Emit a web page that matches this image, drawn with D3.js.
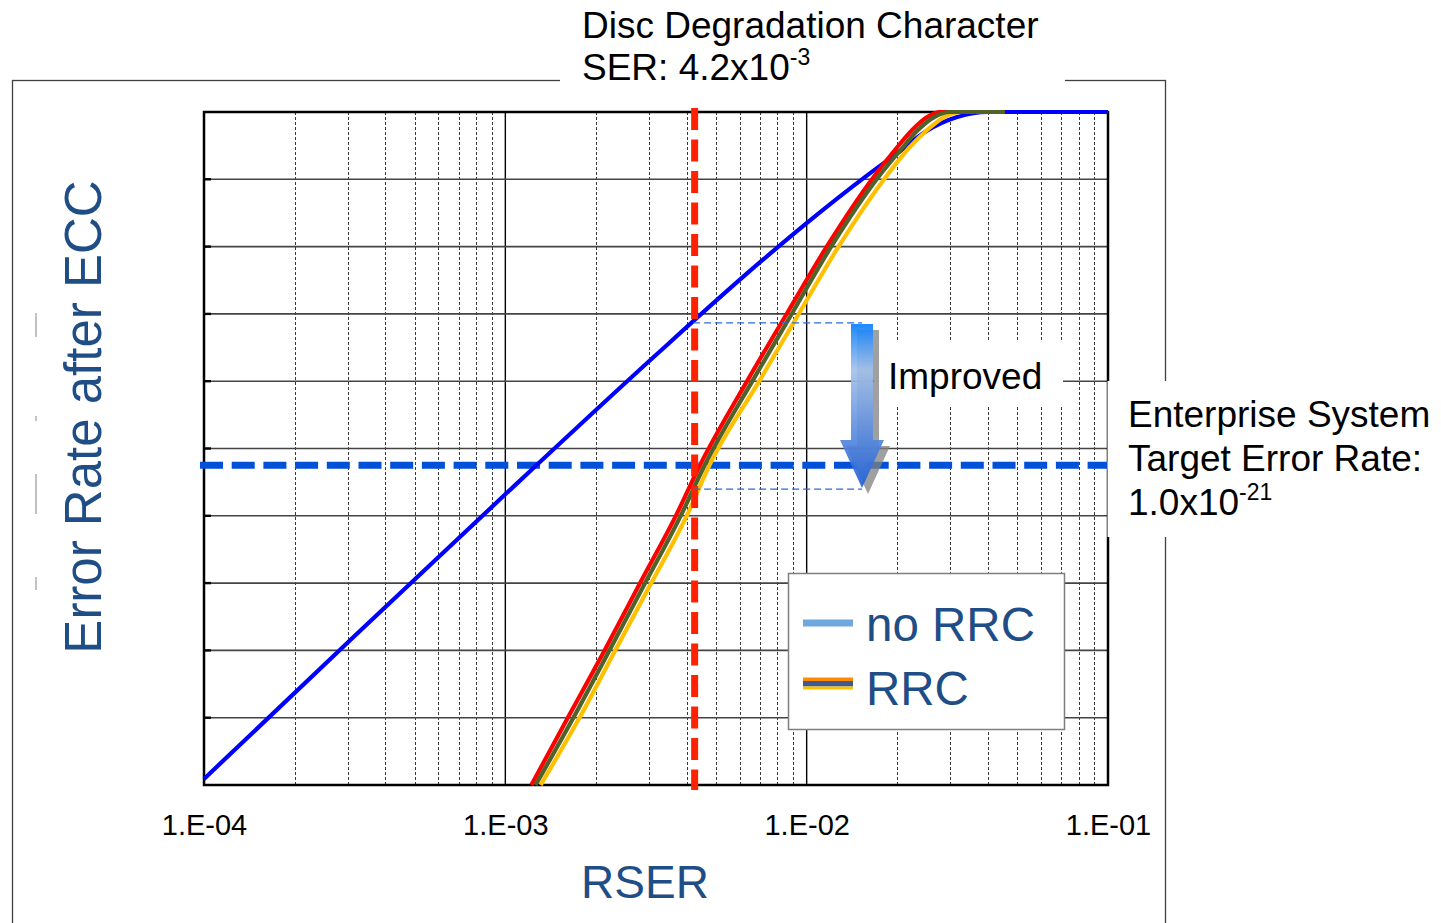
<!DOCTYPE html>
<html>
<head>
<meta charset="utf-8">
<script src="https://cdn.jsdelivr.net/npm/d3@7"></script>
<style>
	body{margin:0;background:#fff;}
	svg{display:block;font-family:"Liberation Sans",Arial,sans-serif;}
</style>
</head>
<body>
<svg id="chart" width="1441" height="923"></svg>
<script>
// values (RSER on x, error rate after ECC on y)
const noRrcRser  = [1.0e-4, 3.16e-4, 1.0e-3, 3.16e-3, 6.3e-3, 1.0e-2, 1.58e-2, 2.0e-2, 2.5e-2, 3.16e-2, 4.0e-2, 1.0e-1];
const noRrcError = [2.3e-40, 7.1e-32, 1.9e-23, 3.6e-15, 2.3e-10, 2.5e-7, 1.6e-4, 3.6e-3, 7.4e-2, 0.5, 1, 1];

const rrcRedRser    = [1.22e-3, 1.61e-3, 2.13e-3, 2.80e-3, 3.69e-3, 4.43e-3, 6.38e-3, 8.61e-3, 1.17e-2, 1.65e-2, 2.00e-2, 2.24e-2, 2.51e-2, 2.77e-2, 4.55e-2];
const rrcOliveRser  = [1.26e-3, 1.68e-3, 2.21e-3, 2.91e-3, 3.83e-3, 4.59e-3, 6.64e-3, 8.95e-3, 1.21e-2, 1.71e-2, 2.09e-2, 2.34e-2, 2.65e-2, 2.99e-2, 4.55e-2];
const rrcYellowRser = [1.31e-3, 1.76e-3, 2.31e-3, 3.05e-3, 4.01e-3, 4.76e-3, 7.00e-3, 9.44e-3, 1.28e-2, 1.81e-2, 2.20e-2, 2.51e-2, 2.86e-2, 3.28e-2, 4.55e-2];
const rrcError      = [1e-40, 9.5e-37, 9.1e-33, 1.0e-28, 1.1e-24, 1.05e-21, 1.2e-16, 1.1e-12, 1.1e-8, 1.05e-4, 8.3e-3, 8.5e-2, 0.5, 1, 1];

const xTickValues = [1e-4, 1e-3, 1e-2, 1e-1];
const xTickLabels = ["1.E-04", "1.E-03", "1.E-02", "1.E-01"];
const yGridValues = [1e-36, 1e-32, 1e-28, 1e-24, 1e-20, 1e-16, 1e-12, 1e-8, 1e-4];

const discSer = 4.2e-3;          // disc degradation character
const targetError = 1.0e-21;     // enterprise system target
const noRrcAtDisc = 2.9e-13;
const rrcAtDisc = 3.9e-23;

const svg = d3.select("#chart");
const plotLeft = 204, plotRight = 1108, plotTop = 112, plotBottom = 785;

const x = d3.scaleLog().domain([1e-4, 1e-1]).range([plotLeft, plotRight]);
const y = d3.scaleLog().domain([1e-40, 1]).range([plotBottom, plotTop]);

// outer frame
svg.append("rect")
	.attr("x", 12.5).attr("y", 80.5)
	.attr("width", 1153).attr("height", 900)
	.attr("fill", "none").attr("stroke", "#404040").attr("stroke-width", 1.3);

// faint leftover marks beside the y title
const ghost = svg.append("g").attr("stroke", "#999").attr("stroke-width", 1.2);
[[313, 337], [416, 421], [474, 514], [577, 590]].forEach(function(s){
	ghost.append("line").attr("x1", 36).attr("x2", 36).attr("y1", s[0]).attr("y2", s[1]);
});

// minor vertical gridlines
let minorTicks = [];
[1e-4, 1e-3, 1e-2].forEach(function(dec){
	for(let k = 2; k <= 9; k++) minorTicks.push(dec * k);
});
svg.append("g").selectAll("line").data(minorTicks).enter().append("line")
	.attr("x1", function(d){ return Math.round(x(d)) + 0.5; })
	.attr("x2", function(d){ return Math.round(x(d)) + 0.5; })
	.attr("y1", plotTop).attr("y2", plotBottom)
	.attr("stroke", "#222").attr("stroke-width", 0.9)
	.attr("stroke-dasharray", "3,2");

// decade lines
svg.append("g").selectAll("line").data([1e-3, 1e-2]).enter().append("line")
	.attr("x1", function(d){ return x(d); })
	.attr("x2", function(d){ return x(d); })
	.attr("y1", plotTop).attr("y2", plotBottom)
	.attr("stroke", "#000").attr("stroke-width", 1.4);

// horizontal gridlines
svg.append("g").selectAll("line").data(yGridValues).enter().append("line")
	.attr("x1", plotLeft).attr("x2", plotRight)
	.attr("y1", function(d){ return y(d); })
	.attr("y2", function(d){ return y(d); })
	.attr("stroke", "#444").attr("stroke-width", 1.6);

// small inner ticks on the left axis
svg.append("g").selectAll("line").data(yGridValues).enter().append("line")
	.attr("x1", plotLeft).attr("x2", plotLeft + 7)
	.attr("y1", function(d){ return y(d); })
	.attr("y2", function(d){ return y(d); })
	.attr("stroke", "#000").attr("stroke-width", 2.4);

// plot border
svg.append("rect")
	.attr("x", plotLeft).attr("y", plotTop)
	.attr("width", plotRight - plotLeft).attr("height", plotBottom - plotTop)
	.attr("fill", "none").attr("stroke", "#000").attr("stroke-width", 2.5);

// x axis labels
const xAxis = d3.axisBottom(x)
	.tickValues(xTickValues)
	.tickFormat(function(d, i){ return xTickLabels[i]; })
	.tickSize(0).tickPadding(29);
const axisG = svg.append("g").attr("transform", "translate(0," + plotBottom + ")").call(xAxis);
axisG.select(".domain").remove();
axisG.selectAll("text")
	.attr("font-family", "Liberation Sans, Arial, sans-serif")
	.attr("font-size", 29).attr("fill", "#000");

// axis titles
svg.append("text")
	.attr("x", 645).attr("y", 898)
	.attr("text-anchor", "middle")
	.attr("font-size", 46).attr("fill", "#1f4e86")
	.text("RSER");

svg.append("text")
	.attr("transform", "translate(101,417) rotate(-90)")
	.attr("text-anchor", "middle")
	.attr("font-size", 51).attr("fill", "#1f4e86")
	.text("Error Rate after ECC");

// target error rate line
svg.append("line")
	.attr("x1", 200).attr("x2", plotRight)
	.attr("y1", y(targetError)).attr("y2", y(targetError))
	.attr("stroke", "#0050d8").attr("stroke-width", 7)
	.attr("stroke-dasharray", "23,8.7");

// curves
const line = d3.line()
	.x(function(d){ return x(d[0]); })
	.y(function(d){ return y(d[1]); })
	.curve(d3.curveMonotoneX);

function zipSeries(xs, ys){
	return xs.map(function(v, i){ return [v, ys[i]]; });
}

const seriesList = [
	{name: "no RRC", data: zipSeries(noRrcRser, noRrcError), color: "#0000ff"},
	{name: "RRC yellow", data: zipSeries(rrcYellowRser, rrcError), color: "#ffc000"},
	{name: "RRC red", data: zipSeries(rrcRedRser, rrcError), color: "#ff0000"},
	{name: "RRC olive", data: zipSeries(rrcOliveRser, rrcError), color: "#4f6228"}
];

svg.append("g").selectAll("path").data(seriesList).enter().append("path")
	.attr("d", function(d){ return line(d.data); })
	.attr("fill", "none")
	.attr("stroke", function(d){ return d.color; })
	.attr("stroke-width", 4.2)
	.attr("stroke-linejoin", "round");

// disc degradation vertical line
svg.append("line")
	.attr("x1", x(discSer) + 1.5).attr("x2", x(discSer) + 1.5)
	.attr("y1", 108).attr("y2", 790)
	.attr("stroke", "#ff2200").attr("stroke-width", 7)
	.attr("stroke-dasharray", "22,9.5");

// helper dashed lines for improvement
const arrowX = 862;
svg.append("g").selectAll("line").data([noRrcAtDisc, rrcAtDisc]).enter().append("line")
	.attr("x1", x(discSer)).attr("x2", arrowX)
	.attr("y1", function(d){ return y(d); })
	.attr("y2", function(d){ return y(d); })
	.attr("stroke", "#2a6ad6").attr("stroke-width", 1.3)
	.attr("stroke-dasharray", "7,4");

// white box behind "Improved"
svg.append("rect")
	.attr("x", 874).attr("y", 341)
	.attr("width", 189).attr("height", 66)
	.attr("fill", "#fff");

svg.append("text")
	.attr("x", 888).attr("y", 389)
	.attr("font-size", 37).attr("fill", "#000")
	.text("Improved");

// arrow
const defs = svg.append("defs");
const grad = defs.append("linearGradient")
	.attr("id", "arrowGrad")
	.attr("x1", 0).attr("y1", 0).attr("x2", 0).attr("y2", 1);
grad.append("stop").attr("offset", "0%").attr("stop-color", "#0a7fff");
grad.append("stop").attr("offset", "28%").attr("stop-color", "#a3c1ea");
grad.append("stop").attr("offset", "100%").attr("stop-color", "#1e5fd6");

const aTop = y(noRrcAtDisc) + 1, aTip = y(rrcAtDisc) - 1;
const headTop = aTip - 48;
function arrowPath(dx, dy){
	return "M" + (arrowX - 11 + dx) + "," + (aTop + dy) +
		"L" + (arrowX + 11 + dx) + "," + (aTop + dy) +
		"L" + (arrowX + 11 + dx) + "," + (headTop + dy) +
		"L" + (arrowX + 22 + dx) + "," + (headTop + dy) +
		"L" + (arrowX + dx) + "," + (aTip + dy) +
		"L" + (arrowX - 22 + dx) + "," + (headTop + dy) +
		"L" + (arrowX - 11 + dx) + "," + (headTop + dy) + "Z";
}
svg.append("path").attr("d", arrowPath(6, 6)).attr("fill", "#808080").attr("opacity", 0.75);
svg.append("path").attr("d", arrowPath(0, 0)).attr("fill", "url(#arrowGrad)").attr("opacity", 0.92);

// legend
const legend = svg.append("g");
legend.append("rect")
	.attr("x", 788.5).attr("y", 573.5)
	.attr("width", 276).attr("height", 156)
	.attr("fill", "#fff").attr("stroke", "#7f7f7f").attr("stroke-width", 1.5);
legend.append("line")
	.attr("x1", 803).attr("x2", 853).attr("y1", 623).attr("y2", 623)
	.attr("stroke", "#6fa8dc").attr("stroke-width", 7);
legend.append("rect").attr("x", 803).attr("y", 677.5).attr("width", 50).attr("height", 3.5).attr("fill", "#ff8a00");
legend.append("rect").attr("x", 803).attr("y", 681).attr("width", 50).attr("height", 5.5).attr("fill", "#3d5a92");
legend.append("rect").attr("x", 803).attr("y", 686.5).attr("width", 50).attr("height", 3).attr("fill", "#ffc000");
legend.append("text")
	.attr("x", 866).attr("y", 641)
	.attr("font-size", 47.5).attr("fill", "#1f4e86")
	.text("no RRC");
legend.append("text")
	.attr("x", 866).attr("y", 705)
	.attr("font-size", 47.5).attr("fill", "#1f4e86")
	.text("RRC");

// white box and title at the top
svg.append("rect").attr("x", 560).attr("y", 0).attr("width", 505).attr("height", 100).attr("fill", "#fff");
const title = svg.append("text").attr("font-size", 37).attr("fill", "#000");
title.append("tspan").attr("x", 582).attr("y", 38).text("Disc Degradation Character");
const t2 = svg.append("text").attr("x", 582).attr("y", 80).attr("font-size", 37).attr("fill", "#000");
t2.append("tspan").text("SER: 4.2x10");
t2.append("tspan").attr("font-size", 23).attr("dy", -15).text("-3");

// enterprise target annotation
svg.append("rect").attr("x", 1107.5).attr("y", 381).attr("width", 334).attr("height", 156).attr("fill", "#fff");
const ent = svg.append("g").attr("font-size", 37).attr("fill", "#000");
ent.append("text").attr("x", 1128).attr("y", 427).text("Enterprise System");
ent.append("text").attr("x", 1128).attr("y", 471).text("Target Error Rate:");
const e3 = ent.append("text").attr("x", 1128).attr("y", 515);
e3.append("tspan").text("1.0x10");
e3.append("tspan").attr("font-size", 23).attr("dy", -15).text("-21");
</script>
</body>
</html>
